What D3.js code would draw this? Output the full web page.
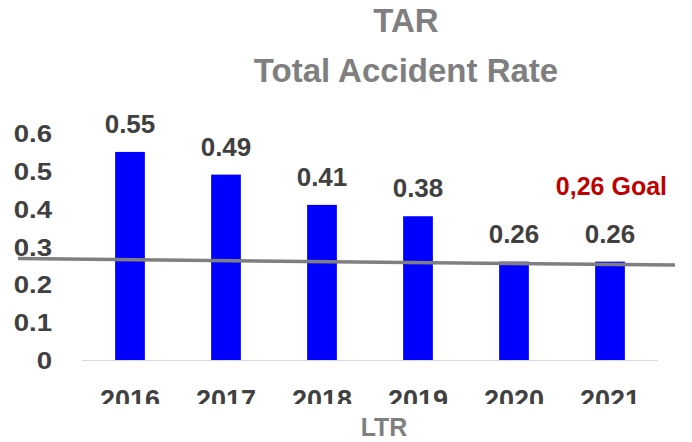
<!DOCTYPE html>
<html>
<head>
<meta charset="utf-8">
<script src="https://cdn.jsdelivr.net/npm/d3@7"></script>
<style>
    body { margin: 0; background: #fff; }
    text { font-family: "Liberation Sans", Arial, sans-serif; font-weight: bold; }
</style>
</head>
<body>
<svg id="chart" width="692" height="442"></svg>
<script>
// Chart data
var years = ["2016", "2017", "2018", "2019", "2020", "2021"];
var rates = [0.55, 0.49, 0.41, 0.38, 0.26, 0.26];
var yTicks = [0, 0.1, 0.2, 0.3, 0.4, 0.5, 0.6];
var goalLine = [0.268, 0.251];   // drawn goal line, left and right end
var goalLabel = "0,26 Goal";

var svg = d3.select("#chart");

// Scales
var x = d3.scaleBand()
    .domain(years)
    .range([82, 658])
    .paddingInner(0.69)
    .paddingOuter(0.345);

var y = d3.scaleLinear()
    .domain([0, 0.6])
    .range([360, 133]);

// Titles
svg.append("text")
    .attr("x", 406)
    .attr("y", 32)
    .attr("text-anchor", "middle")
    .attr("fill", "#7f7f7f")
    .style("font-size", "33px")
    .text("TAR");

svg.append("text")
    .attr("x", 406)
    .attr("y", 82)
    .attr("text-anchor", "middle")
    .attr("fill", "#7f7f7f")
    .style("font-size", "33px")
    .text("Total Accident Rate");

// Y tick labels
svg.append("g")
    .selectAll("text")
    .data(yTicks)
    .join("text")
    .attr("x", 52)
    .attr("y", function(d) { return y(d) + 1; })
    .attr("text-anchor", "end")
    .attr("dominant-baseline", "central")
    .attr("fill", "#404040")
    .attr("transform", "translate(52,0) scale(1.2,1) translate(-52,0)")
    .style("font-size", "23px")
    .text(function(d) { return d === 0 ? "0" : d3.format(".1f")(d); });

// Baseline
svg.append("line")
    .attr("x1", x.range()[0])
    .attr("x2", x.range()[1])
    .attr("y1", y(0) + 0.5)
    .attr("y2", y(0) + 0.5)
    .attr("stroke", "#d9d9d9")
    .attr("stroke-width", 1);

// Bars
svg.append("g")
    .selectAll("rect")
    .data(rates)
    .join("rect")
    .attr("x", function(d, i) { return x(years[i]); })
    .attr("y", function(d) { return y(d); })
    .attr("width", x.bandwidth())
    .attr("height", function(d) { return y(0) - y(d); })
    .attr("fill", "#0000ff");

// Value labels
svg.append("g")
    .selectAll("text")
    .data(rates)
    .join("text")
    .attr("x", function(d, i) { return x(years[i]) + x.bandwidth() / 2; })
    .attr("y", function(d) { return y(d) - 19; })
    .attr("text-anchor", "middle")
    .attr("fill", "#404040")
    .style("font-size", "26px")
    .text(function(d) { return d3.format(".2f")(d); });

// Goal line
svg.append("line")
    .attr("x1", x.range()[0] - 64)
    .attr("x2", x.range()[1] + 17)
    .attr("y1", y(goalLine[0]))
    .attr("y2", y(goalLine[1]))
    .attr("stroke", "#7f7f7f")
    .attr("stroke-width", 3.5);

svg.append("text")
    .attr("x", 667)
    .attr("y", 195)
    .attr("text-anchor", "end")
    .attr("fill", "#c00000")
    .style("font-size", "25px")
    .text(goalLabel);

// Year labels, cut off at the bottom like the source
svg.append("clipPath")
    .attr("id", "yearClip")
    .append("rect")
    .attr("x", 0)
    .attr("y", 0)
    .attr("width", 692)
    .attr("height", 404);

svg.append("g")
    .attr("clip-path", "url(#yearClip)")
    .selectAll("text")
    .data(years)
    .join("text")
    .attr("x", function(d) { return x(d) + x.bandwidth() / 2; })
    .attr("y", 409)
    .attr("text-anchor", "middle")
    .attr("fill", "#404040")
    .style("font-size", "27px")
    .text(function(d) { return d; });

// Axis title
svg.append("text")
    .attr("x", 384)
    .attr("y", 436)
    .attr("text-anchor", "middle")
    .attr("fill", "#7f7f7f")
    .style("font-size", "25px")
    .text("LTR");
</script>
</body>
</html>
